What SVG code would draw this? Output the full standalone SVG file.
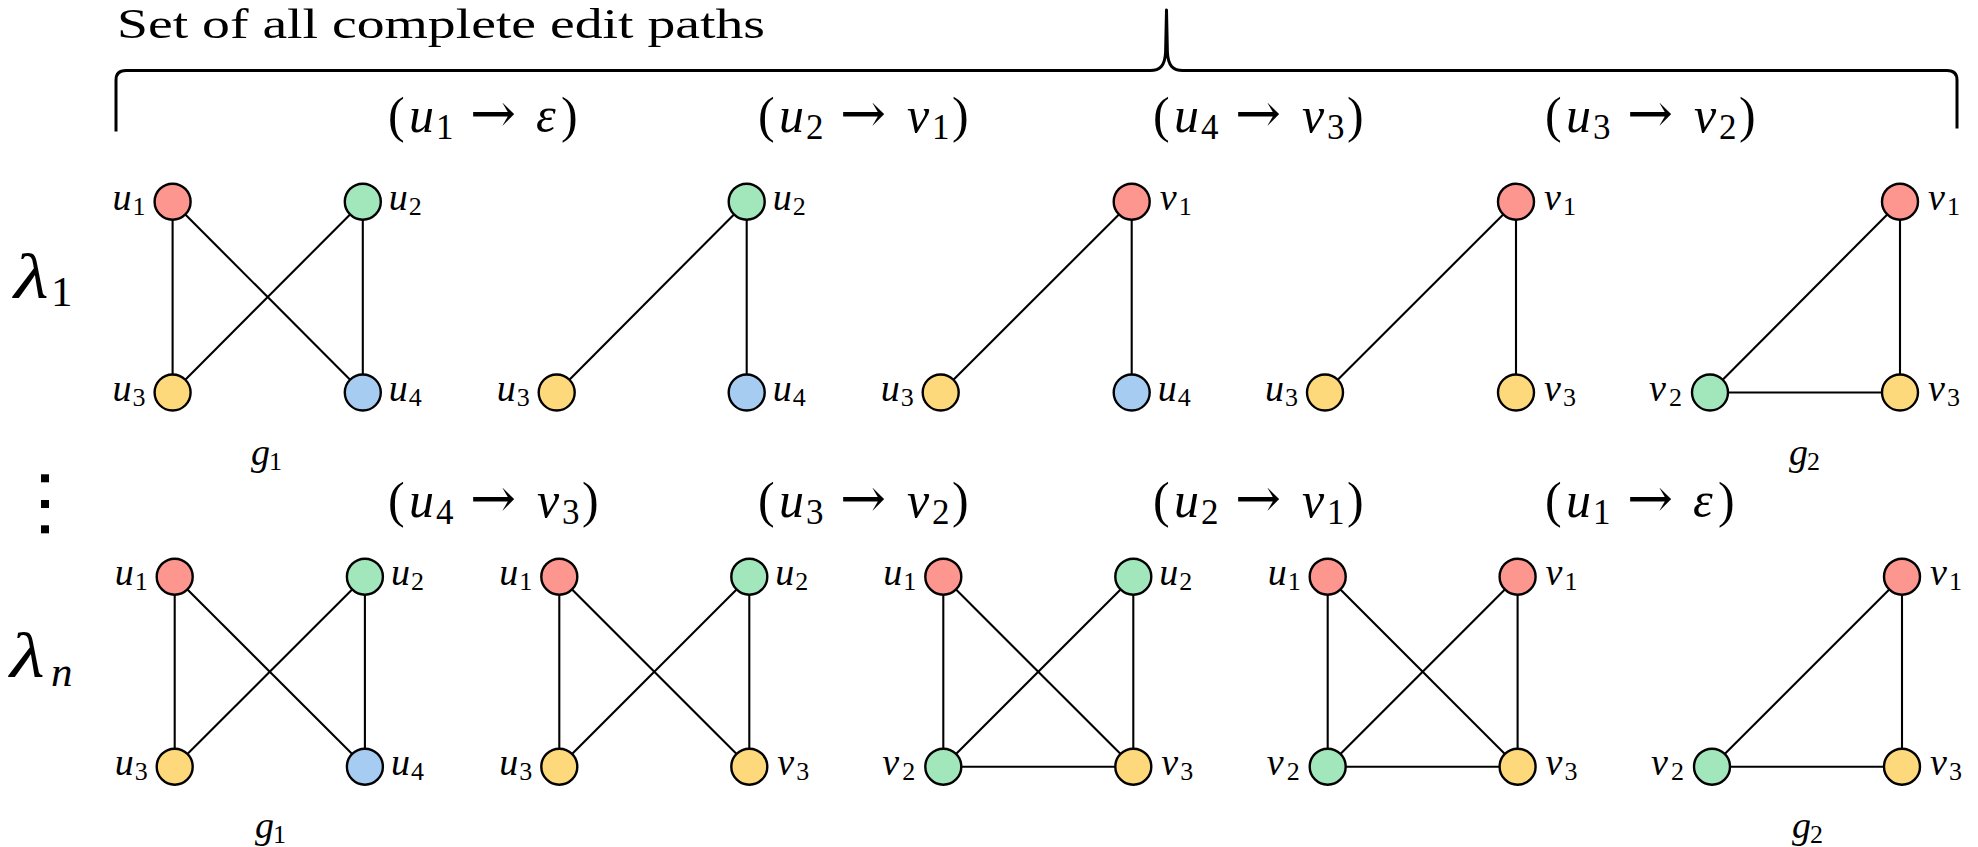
<svg xmlns="http://www.w3.org/2000/svg" width="1978" height="847" viewBox="0 0 1978 847" font-family="'Liberation Serif', 'DejaVu Serif', 'Times New Roman', serif">
<style>
text{font-family:'Liberation Serif','DejaVu Serif','Times New Roman',serif;fill:#000}
.title{font-size:42px}
.ml{font-size:50px}
.ml .it{font-style:italic}
.ml .sb{font-size:35px}
.ml .ar{font-family:'DejaVu Serif',serif;font-size:55px}
.lam{font-size:64px;font-style:italic}
.lsb{font-size:43px}
.nl{font-size:38px;font-style:italic}
.nl .sb{font-size:26px;font-style:normal}
.e{stroke:#000;stroke-width:2.1;fill:none}
.n{stroke:#000;stroke-width:2.4}
.red{fill:#FE9690}.grn{fill:#A2E7BC}.yel{fill:#FED97C}.blu{fill:#A6CCF2}
.brace{fill:none;stroke:#000;stroke-width:3;stroke-linejoin:round}
</style>
<rect width="1978" height="847" fill="#fff"/>
<text class="title" x="117" y="38" textLength="648" lengthAdjust="spacingAndGlyphs">Set of all complete edit paths</text>
<path class="brace" d="M116,131.5 L116,80 Q116,70.5 126,70.5 L1150,70.5 C1160,70.5 1165,66 1165.6,52 L1166.5,10 L1167.4,52 C1168,66 1173,70.5 1183,70.5 L1947,70.5 Q1957,70.5 1957,80 L1957,128.5"/>
<g id="lambda1"><text class="lam" transform="translate(14,298) scale(1.25,1)">λ</text><text class="lsb" x="51" y="306">1</text></g>
<g id="lambdan"><text class="lam" transform="translate(10,677) scale(1.25,1)">λ</text><text class="lsb" x="51" y="686" font-style="italic">n</text></g>
<g id="vdots"><rect x="41" y="474.3" width="8" height="8"/><rect x="41" y="500" width="8" height="8"/><rect x="41" y="525.3" width="8" height="8"/></g>
<g id="ops-row1">
<text class="ml" y="132"><tspan x="388">(</tspan><tspan class="it" x="409">u</tspan><tspan class="sb" x="436" dy="7">1</tspan><tspan class="ar" x="470" dy="-7">→</tspan><tspan class="it" x="536">ε</tspan><tspan x="561">)</tspan></text>
<text class="ml" y="132"><tspan x="758">(</tspan><tspan class="it" x="779">u</tspan><tspan class="sb" x="806" dy="7">2</tspan><tspan class="ar" x="840" dy="-7">→</tspan><tspan class="it" x="907">v</tspan><tspan class="sb" x="932" dy="7">1</tspan><tspan x="952" dy="-7">)</tspan></text>
<text class="ml" y="132"><tspan x="1153">(</tspan><tspan class="it" x="1174">u</tspan><tspan class="sb" x="1201" dy="7">4</tspan><tspan class="ar" x="1235" dy="-7">→</tspan><tspan class="it" x="1302">v</tspan><tspan class="sb" x="1327" dy="7">3</tspan><tspan x="1347" dy="-7">)</tspan></text>
<text class="ml" y="132"><tspan x="1545">(</tspan><tspan class="it" x="1566">u</tspan><tspan class="sb" x="1593" dy="7">3</tspan><tspan class="ar" x="1627" dy="-7">→</tspan><tspan class="it" x="1694">v</tspan><tspan class="sb" x="1719" dy="7">2</tspan><tspan x="1739" dy="-7">)</tspan></text>
</g>
<g id="ops-row2">
<text class="ml" y="516.5"><tspan x="388">(</tspan><tspan class="it" x="409">u</tspan><tspan class="sb" x="436" dy="7">4</tspan><tspan class="ar" x="470" dy="-7">→</tspan><tspan class="it" x="537">v</tspan><tspan class="sb" x="562" dy="7">3</tspan><tspan x="582" dy="-7">)</tspan></text>
<text class="ml" y="516.5"><tspan x="758">(</tspan><tspan class="it" x="779">u</tspan><tspan class="sb" x="806" dy="7">3</tspan><tspan class="ar" x="840" dy="-7">→</tspan><tspan class="it" x="907">v</tspan><tspan class="sb" x="932" dy="7">2</tspan><tspan x="952" dy="-7">)</tspan></text>
<text class="ml" y="516.5"><tspan x="1153">(</tspan><tspan class="it" x="1174">u</tspan><tspan class="sb" x="1201" dy="7">2</tspan><tspan class="ar" x="1235" dy="-7">→</tspan><tspan class="it" x="1302">v</tspan><tspan class="sb" x="1327" dy="7">1</tspan><tspan x="1347" dy="-7">)</tspan></text>
<text class="ml" y="516.5"><tspan x="1545">(</tspan><tspan class="it" x="1566">u</tspan><tspan class="sb" x="1593" dy="7">1</tspan><tspan class="ar" x="1627" dy="-7">→</tspan><tspan class="it" x="1693">ε</tspan><tspan x="1718">)</tspan></text>
</g>
<g id="graph-names">
<text class="nl" y="465"><tspan x="251">g</tspan><tspan class="sb" x="269" dy="5">1</tspan></text>
<text class="nl" y="465"><tspan x="1789">g</tspan><tspan class="sb" x="1807" dy="5">2</tspan></text>
<text class="nl" y="838"><tspan x="255">g</tspan><tspan class="sb" x="273" dy="5">1</tspan></text>
<text class="nl" y="838"><tspan x="1792">g</tspan><tspan class="sb" x="1810" dy="5">2</tspan></text>
</g>
<g id="connectors">
<line class="e" x1="172.6" y1="201.7" x2="172.6" y2="392.5"/>
<line class="e" x1="172.6" y1="201.7" x2="362.8" y2="392.5"/>
<line class="e" x1="362.8" y1="201.7" x2="172.6" y2="392.5"/>
<line class="e" x1="362.8" y1="201.7" x2="362.8" y2="392.5"/>
<line class="e" x1="746.7" y1="201.7" x2="556.7" y2="392.5"/>
<line class="e" x1="746.7" y1="201.7" x2="746.7" y2="392.5"/>
<line class="e" x1="1131.7" y1="201.7" x2="940.7" y2="392.5"/>
<line class="e" x1="1131.7" y1="201.7" x2="1131.7" y2="392.5"/>
<line class="e" x1="1516" y1="201.7" x2="1325" y2="392.5"/>
<line class="e" x1="1516" y1="201.7" x2="1516" y2="392.5"/>
<line class="e" x1="1900" y1="201.7" x2="1710" y2="392.5"/>
<line class="e" x1="1900" y1="201.7" x2="1900" y2="392.5"/>
<line class="e" x1="1710" y1="392.5" x2="1900" y2="392.5"/>
<line class="e" x1="174.7" y1="576.7" x2="174.7" y2="766.7"/>
<line class="e" x1="174.7" y1="576.7" x2="364.9" y2="766.7"/>
<line class="e" x1="364.9" y1="576.7" x2="174.7" y2="766.7"/>
<line class="e" x1="364.9" y1="576.7" x2="364.9" y2="766.7"/>
<line class="e" x1="559.3" y1="576.7" x2="559.3" y2="766.7"/>
<line class="e" x1="559.3" y1="576.7" x2="749.3" y2="766.7"/>
<line class="e" x1="749.3" y1="576.7" x2="559.3" y2="766.7"/>
<line class="e" x1="749.3" y1="576.7" x2="749.3" y2="766.7"/>
<line class="e" x1="943.3" y1="576.7" x2="943.3" y2="766.7"/>
<line class="e" x1="943.3" y1="576.7" x2="1133.3" y2="766.7"/>
<line class="e" x1="1133.3" y1="576.7" x2="943.3" y2="766.7"/>
<line class="e" x1="1133.3" y1="576.7" x2="1133.3" y2="766.7"/>
<line class="e" x1="943.3" y1="766.7" x2="1133.3" y2="766.7"/>
<line class="e" x1="1327.7" y1="576.7" x2="1327.7" y2="766.7"/>
<line class="e" x1="1327.7" y1="576.7" x2="1517.6" y2="766.7"/>
<line class="e" x1="1517.6" y1="576.7" x2="1327.7" y2="766.7"/>
<line class="e" x1="1517.6" y1="576.7" x2="1517.6" y2="766.7"/>
<line class="e" x1="1327.7" y1="766.7" x2="1517.6" y2="766.7"/>
<line class="e" x1="1902" y1="576.7" x2="1712" y2="766.7"/>
<line class="e" x1="1902" y1="576.7" x2="1902" y2="766.7"/>
<line class="e" x1="1712" y1="766.7" x2="1902" y2="766.7"/>
</g>
<!-- Row 1 -->
<g id="r1g1-u1"><circle class="n red" cx="172.6" cy="201.7" r="18"/><text class="nl" y="209.7"><tspan x="112.6">u</tspan><tspan class="sb" x="132.6" dy="5">1</tspan></text></g>
<g id="r1g1-u2"><circle class="n grn" cx="362.8" cy="201.7" r="18"/><text class="nl" y="209.7"><tspan x="388.8">u</tspan><tspan class="sb" x="408.8" dy="5">2</tspan></text></g>
<g id="r1g1-u3"><circle class="n yel" cx="172.6" cy="392.5" r="18"/><text class="nl" y="400.5"><tspan x="112.6">u</tspan><tspan class="sb" x="132.6" dy="5">3</tspan></text></g>
<g id="r1g1-u4"><circle class="n blu" cx="362.8" cy="392.5" r="18"/><text class="nl" y="400.5"><tspan x="388.8">u</tspan><tspan class="sb" x="408.8" dy="5">4</tspan></text></g>
<g id="r1g2-u2"><circle class="n grn" cx="746.7" cy="201.7" r="18"/><text class="nl" y="209.7"><tspan x="772.7">u</tspan><tspan class="sb" x="792.7" dy="5">2</tspan></text></g>
<g id="r1g2-u3"><circle class="n yel" cx="556.7" cy="392.5" r="18"/><text class="nl" y="400.5"><tspan x="496.7">u</tspan><tspan class="sb" x="516.7" dy="5">3</tspan></text></g>
<g id="r1g2-u4"><circle class="n blu" cx="746.7" cy="392.5" r="18"/><text class="nl" y="400.5"><tspan x="772.7">u</tspan><tspan class="sb" x="792.7" dy="5">4</tspan></text></g>
<g id="r1g3-v1"><circle class="n red" cx="1131.7" cy="201.7" r="18"/><text class="nl" y="209.7"><tspan x="1159.7">v</tspan><tspan class="sb" x="1178.7" dy="5">1</tspan></text></g>
<g id="r1g3-u3"><circle class="n yel" cx="940.7" cy="392.5" r="18"/><text class="nl" y="400.5"><tspan x="880.7">u</tspan><tspan class="sb" x="900.7" dy="5">3</tspan></text></g>
<g id="r1g3-u4"><circle class="n blu" cx="1131.7" cy="392.5" r="18"/><text class="nl" y="400.5"><tspan x="1157.7">u</tspan><tspan class="sb" x="1177.7" dy="5">4</tspan></text></g>
<g id="r1g4-v1"><circle class="n red" cx="1516" cy="201.7" r="18"/><text class="nl" y="209.7"><tspan x="1544">v</tspan><tspan class="sb" x="1563" dy="5">1</tspan></text></g>
<g id="r1g4-u3"><circle class="n yel" cx="1325" cy="392.5" r="18"/><text class="nl" y="400.5"><tspan x="1265">u</tspan><tspan class="sb" x="1285" dy="5">3</tspan></text></g>
<g id="r1g4-v3"><circle class="n yel" cx="1516" cy="392.5" r="18"/><text class="nl" y="400.5"><tspan x="1544">v</tspan><tspan class="sb" x="1563" dy="5">3</tspan></text></g>
<g id="r1g5-v1"><circle class="n red" cx="1900" cy="201.7" r="18"/><text class="nl" y="209.7"><tspan x="1928">v</tspan><tspan class="sb" x="1947" dy="5">1</tspan></text></g>
<g id="r1g5-v2"><circle class="n grn" cx="1710" cy="392.5" r="18"/><text class="nl" y="400.5"><tspan x="1649">v</tspan><tspan class="sb" x="1669" dy="5">2</tspan></text></g>
<g id="r1g5-v3"><circle class="n yel" cx="1900" cy="392.5" r="18"/><text class="nl" y="400.5"><tspan x="1928">v</tspan><tspan class="sb" x="1947" dy="5">3</tspan></text></g>
<!-- Row 2 -->
<g id="r2g1-u1"><circle class="n red" cx="174.7" cy="576.7" r="18"/><text class="nl" y="584.7"><tspan x="114.7">u</tspan><tspan class="sb" x="134.7" dy="5">1</tspan></text></g>
<g id="r2g1-u2"><circle class="n grn" cx="364.9" cy="576.7" r="18"/><text class="nl" y="584.7"><tspan x="390.9">u</tspan><tspan class="sb" x="410.9" dy="5">2</tspan></text></g>
<g id="r2g1-u3"><circle class="n yel" cx="174.7" cy="766.7" r="18"/><text class="nl" y="774.7"><tspan x="114.7">u</tspan><tspan class="sb" x="134.7" dy="5">3</tspan></text></g>
<g id="r2g1-u4"><circle class="n blu" cx="364.9" cy="766.7" r="18"/><text class="nl" y="774.7"><tspan x="390.9">u</tspan><tspan class="sb" x="410.9" dy="5">4</tspan></text></g>
<g id="r2g2-u1"><circle class="n red" cx="559.3" cy="576.7" r="18"/><text class="nl" y="584.7"><tspan x="499.3">u</tspan><tspan class="sb" x="519.3" dy="5">1</tspan></text></g>
<g id="r2g2-u2"><circle class="n grn" cx="749.3" cy="576.7" r="18"/><text class="nl" y="584.7"><tspan x="775.3">u</tspan><tspan class="sb" x="795.3" dy="5">2</tspan></text></g>
<g id="r2g2-u3"><circle class="n yel" cx="559.3" cy="766.7" r="18"/><text class="nl" y="774.7"><tspan x="499.3">u</tspan><tspan class="sb" x="519.3" dy="5">3</tspan></text></g>
<g id="r2g2-v3"><circle class="n yel" cx="749.3" cy="766.7" r="18"/><text class="nl" y="774.7"><tspan x="777.3">v</tspan><tspan class="sb" x="796.3" dy="5">3</tspan></text></g>
<g id="r2g3-u1"><circle class="n red" cx="943.3" cy="576.7" r="18"/><text class="nl" y="584.7"><tspan x="883.3">u</tspan><tspan class="sb" x="903.3" dy="5">1</tspan></text></g>
<g id="r2g3-u2"><circle class="n grn" cx="1133.3" cy="576.7" r="18"/><text class="nl" y="584.7"><tspan x="1159.3">u</tspan><tspan class="sb" x="1179.3" dy="5">2</tspan></text></g>
<g id="r2g3-v2"><circle class="n grn" cx="943.3" cy="766.7" r="18"/><text class="nl" y="774.7"><tspan x="882.3">v</tspan><tspan class="sb" x="902.3" dy="5">2</tspan></text></g>
<g id="r2g3-v3"><circle class="n yel" cx="1133.3" cy="766.7" r="18"/><text class="nl" y="774.7"><tspan x="1161.3">v</tspan><tspan class="sb" x="1180.3" dy="5">3</tspan></text></g>
<g id="r2g4-u1"><circle class="n red" cx="1327.7" cy="576.7" r="18"/><text class="nl" y="584.7"><tspan x="1267.7">u</tspan><tspan class="sb" x="1287.7" dy="5">1</tspan></text></g>
<g id="r2g4-v1"><circle class="n red" cx="1517.6" cy="576.7" r="18"/><text class="nl" y="584.7"><tspan x="1545.6">v</tspan><tspan class="sb" x="1564.6" dy="5">1</tspan></text></g>
<g id="r2g4-v2"><circle class="n grn" cx="1327.7" cy="766.7" r="18"/><text class="nl" y="774.7"><tspan x="1266.7">v</tspan><tspan class="sb" x="1286.7" dy="5">2</tspan></text></g>
<g id="r2g4-v3"><circle class="n yel" cx="1517.6" cy="766.7" r="18"/><text class="nl" y="774.7"><tspan x="1545.6">v</tspan><tspan class="sb" x="1564.6" dy="5">3</tspan></text></g>
<g id="r2g5-v1"><circle class="n red" cx="1902" cy="576.7" r="18"/><text class="nl" y="584.7"><tspan x="1930">v</tspan><tspan class="sb" x="1949" dy="5">1</tspan></text></g>
<g id="r2g5-v2"><circle class="n grn" cx="1712" cy="766.7" r="18"/><text class="nl" y="774.7"><tspan x="1651">v</tspan><tspan class="sb" x="1671" dy="5">2</tspan></text></g>
<g id="r2g5-v3"><circle class="n yel" cx="1902" cy="766.7" r="18"/><text class="nl" y="774.7"><tspan x="1930">v</tspan><tspan class="sb" x="1949" dy="5">3</tspan></text></g>
</svg>
